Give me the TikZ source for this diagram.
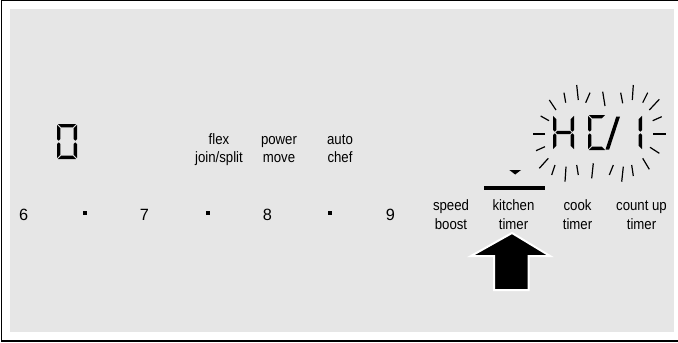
\documentclass[tikz,border=0pt]{standalone}
\usepackage{fontspec}
\setmainfont[FakeStretch=0.88]{Liberation Sans}
\newfontfamily\digitfont{Liberation Sans}
\definecolor{panel}{RGB}{230,230,230}
\def\sw{20}\def\sh{35}\def\st{3.4}\def\sg{0.8}
\newcommand{\sgmA}{\fill (\sg,0) -- ({\sw-\sg},0) -- ({\sw-\sg-\st},\st) -- ({\sg+\st},\st) -- cycle;}
\newcommand{\sgmD}{\fill (\sg,\sh) -- ({\sw-\sg},\sh) -- ({\sw-\sg-\st},{\sh-\st}) -- ({\sg+\st},{\sh-\st}) -- cycle;}
\newcommand{\sgmF}{\fill (0,\sg) -- (\st,{\sg+\st}) -- (\st,{\sh/2-\sg-\st/2}) -- ({\st/2},{\sh/2-\sg}) -- (0,{\sh/2-\sg-\st/2}) -- cycle;}
\newcommand{\sgmE}{\fill (0,{\sh-\sg}) -- (\st,{\sh-\sg-\st}) -- (\st,{\sh/2+\sg+\st/2}) -- ({\st/2},{\sh/2+\sg}) -- (0,{\sh/2+\sg+\st/2}) -- cycle;}
\newcommand{\sgmB}{\fill (\sw,\sg) -- ({\sw-\st},{\sg+\st}) -- ({\sw-\st},{\sh/2-\sg-\st/2}) -- ({\sw-\st/2},{\sh/2-\sg}) -- (\sw,{\sh/2-\sg-\st/2}) -- cycle;}
\newcommand{\sgmC}{\fill (\sw,{\sh-\sg}) -- ({\sw-\st},{\sh-\sg-\st}) -- ({\sw-\st},{\sh/2+\sg+\st/2}) -- ({\sw-\st/2},{\sh/2+\sg}) -- (\sw,{\sh/2+\sg+\st/2}) -- cycle;}
\newcommand{\sgmG}{\fill ({\sg+\st/2},{\sh/2}) -- ({\sg+\st},{\sh/2-\st/2}) -- ({\sw-\sg-\st},{\sh/2-\st/2}) -- ({\sw-\sg-\st/2},{\sh/2}) -- ({\sw-\sg-\st},{\sh/2+\st/2}) -- ({\sg+\st},{\sh/2+\st/2}) -- cycle;}
\begin{document}
\begin{tikzpicture}[x=1pt,y=-1pt,
  num/.style={font=\digitfont\fontsize{16.3}{18}\selectfont, inner sep=0pt, anchor=base},
  lbl/.style={font=\fontsize{15}{18.5}\selectfont, inner sep=0pt, anchor=base},
  dotsq/.style={fill=black, minimum size=4pt, inner sep=0pt},
  ray/.style={line width=1.2pt}]
\useasboundingbox (0,0) rectangle (678,343);
\fill[white] (0,0) rectangle (678,343);
\fill[panel] (10,9) rectangle (674,332);
\draw[line width=1.3pt] (680,0.7) -- (1.6,0.7) -- (1.6,341) -- (680,341);
% big digit 0
\begin{scope}[shift={(57,124)}]
\sgmA \sgmB \sgmC \sgmD \sgmE \sgmF
\end{scope}
% labels middle
\node[lbl] (flex) at (219,144) {\begin{tabular}[t]{@{}c@{}}flex\\join/split\end{tabular}};
\node[lbl] (power) at (279,144) {\begin{tabular}[t]{@{}c@{}}power\\move\end{tabular}};
\node[lbl] (auto) at (340,144) {\begin{tabular}[t]{@{}c@{}}auto\\chef\end{tabular}};
% number row
\node[num] (n6) at (23.7,220) {6};
\node[dotsq] (s1) at (85.3,213.3) {};
\node[num] (n7) at (144.5,220) {7};
\node[dotsq] (s2) at (208.3,213.3) {};
\node[num] (n8) at (267.5,220) {8};
\node[dotsq] (s3) at (330.3,213.3) {};
\node[num] (n9) at (390.3,220) {9};
% right labels
\node[lbl] (speed) at (451,210.5) {\begin{tabular}[t]{@{}c@{}}speed\\boost\end{tabular}};
\node[lbl] (kitchen) at (513.5,210.5) {\begin{tabular}[t]{@{}c@{}}kitchen\\timer\end{tabular}};
\node[lbl] (cook) at (577.5,210.5) {\begin{tabular}[t]{@{}c@{}}cook\\timer\end{tabular}};
\node[lbl] (countup) at (641.5,210.5) {\begin{tabular}[t]{@{}c@{}}count up\\timer\end{tabular}};
% bar and triangle
\fill (484,186) rectangle (545,190);
\fill (509.3,170) -- (521,170) -- (515.2,174.5) -- cycle;
% arrow
\filldraw[fill=black, draw=white, line width=2pt] (512,233) -- (550,256) -- (528.5,256) -- (528.5,290) -- (494,290) -- (494,256) -- (471,256) -- cycle;
% HC/1
\begin{scope}[shift={(553,115)}]
\def\sw{21}
\sgmB \sgmC \sgmE \sgmF \sgmG
\end{scope}
\begin{scope}[shift={(588,115)}]
\def\sw{18}
\sgmA \sgmD \sgmE \sgmF
\end{scope}
\fill (605.5,149.5) -- (609.2,149.5) -- (620,116.5) -- (616.3,116.5) -- cycle;
\begin{scope}[shift={(622,115)}]
\sgmB \sgmC
\end{scope}
% rays
\foreach \a/\b in {
 {(549.3,100)}/{(556,110)}, {(564,92.7)}/{(565.7,102.7)}, {(576.7,85)}/{(578.3,100)},
 {(585.7,102.7)}/{(590,92.7)}, {(602.7,91.7)}/{(605,106)}, {(620.7,92.7)}/{(622.7,103.3)},
 {(633.3,85)}/{(632.3,100)}, {(642.7,102.7)}/{(647.7,92.7)}, {(649.3,110)}/{(659.3,99.3)},
 {(652.7,120.7)}/{(661.7,116.7)}, {(653,134)}/{(666,134)}, {(650,147.3)}/{(659.3,153.3)},
 {(642.7,158.3)}/{(649.3,169.3)}, {(631.7,165)}/{(633.3,176)}, {(623.3,166.7)}/{(621.7,181.7)},
 {(613.3,165)}/{(609.3,175)}, {(593.3,163.3)}/{(591.7,178.3)}, {(576.7,165)}/{(578.3,175)},
 {(566,166.7)}/{(565,181.7)}, {(555,165)}/{(551.7,175)}, {(548.3,158.3)}/{(539.3,168.3)},
 {(545,146.7)}/{(536,150.7)}, {(545,134)}/{(533.3,134)}, {(549,120.7)}/{(540.7,116)}}
 \draw[ray] \a -- \b;
\end{tikzpicture}
\end{document}
